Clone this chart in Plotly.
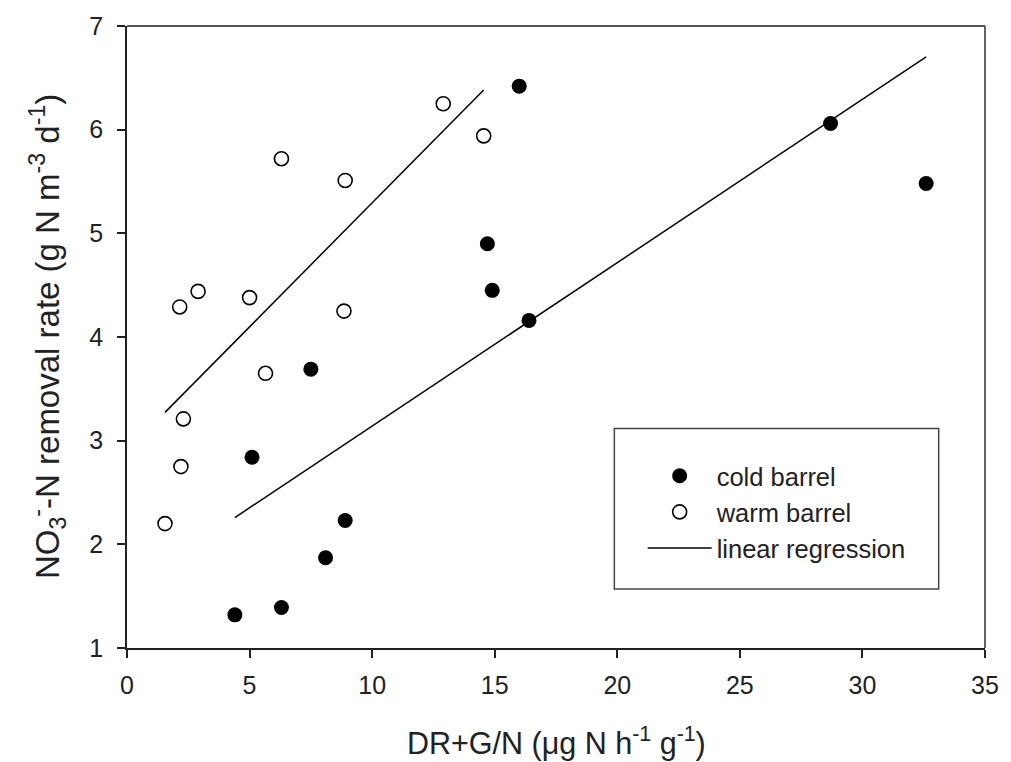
import plotly.graph_objects as go
import numpy as np

# cold barrel data
cold_x = [4.4, 6.3, 8.1, 8.9, 5.1, 7.5, 14.7, 14.9, 16.4, 16.0, 28.7, 32.6]
cold_y = [1.32, 1.39, 1.87, 2.23, 2.84, 3.69, 4.90, 4.45, 4.16, 6.42, 6.06, 5.48]
# warm barrel data
warm_x = [1.55, 2.2, 2.3, 2.15, 2.9, 5.0, 5.65, 6.3, 8.9, 8.85, 12.9, 14.55]
warm_y = [2.20, 2.75, 3.21, 4.29, 4.44, 4.38, 3.65, 5.72, 5.51, 4.25, 6.25, 5.94]
# linear regressions (slope, intercept)
cold_fit = (0.1576, 1.565)
warm_fit = (0.2392, 2.902)

x_ticks = [0, 5, 10, 15, 20, 25, 30, 35]
y_ticks = [1, 2, 3, 4, 5, 6, 7]

x_title = "DR+G/N (μg N h<sup>-1</sup> g<sup>-1</sup>)"
y_title = "NO<sub>3</sub><sup>-</sup>-N removal rate (g N m<sup>-3</sup> d<sup>-1</sup>)"

FONT = "Liberation Sans, Arial, sans-serif"
TXT = "#222"

fig = go.Figure()

fig.add_trace(go.Scatter(
    x=cold_x, y=cold_y, mode="markers", name="cold barrel", legendgroup="a",
    marker=dict(symbol="circle", size=15, color="black", line=dict(width=0)),
))
fig.add_trace(go.Scatter(
    x=warm_x, y=warm_y, mode="markers", name="warm barrel", legendgroup="b",
    marker=dict(symbol="circle-open", size=14, color="black", line=dict(width=1.6)),
))

cx = np.array([min(cold_x), max(cold_x)])
wx = np.array([min(warm_x), max(warm_x)])
fig.add_trace(go.Scatter(
    x=wx, y=warm_fit[0] * wx + warm_fit[1], mode="lines", name="linear regression",
    legendgroup="c", line=dict(color="black", width=1.5), showlegend=True,
))
fig.add_trace(go.Scatter(
    x=cx, y=cold_fit[0] * cx + cold_fit[1], mode="lines", name="linear regression",
    legendgroup="c", line=dict(color="black", width=1.5), showlegend=False,
))

# legend frame
fig.add_shape(type="rect", xref="paper", yref="paper",
              x0=0.568, x1=0.946, y0=0.095, y1=0.353,
              line=dict(color="#444", width=1.5), fillcolor="rgba(0,0,0,0)")

fig.update_layout(
    width=1011, height=762,
    margin=dict(l=127, r=19, t=24, b=114),
    paper_bgcolor="white", plot_bgcolor="white",
    font=dict(family=FONT, color=TXT, size=25),
    showlegend=True,
    legend=dict(x=0.601, y=0.314, xanchor="left", yanchor="top",
                bgcolor="rgba(0,0,0,0)", borderwidth=0,
                font=dict(size=25.5, family=FONT, color=TXT),
                tracegroupgap=0, itemwidth=64),
    xaxis=dict(range=[0, 35], tickvals=x_ticks, ticks="outside", ticklen=8,
               tickwidth=1.5, tickcolor=TXT, showgrid=False, zeroline=False,
               showline=True, linecolor=TXT, linewidth=1.8, mirror=False,
               ticklabelstandoff=6,
               tickfont=dict(size=25, family=FONT, color=TXT)),
    yaxis=dict(range=[1, 7], tickvals=y_ticks, ticks="outside", ticklen=8,
               tickwidth=1.5, tickcolor=TXT, showgrid=False, zeroline=False,
               showline=True, linecolor=TXT, linewidth=1.8, mirror=False,
               ticklabelstandoff=9,
               tickfont=dict(size=25, family=FONT, color=TXT)),
    annotations=[
        dict(text=x_title, xref="paper", yref="paper", x=0.5, y=0,
             xanchor="center", yanchor="middle", yshift=-93, showarrow=False,
             font=dict(size=30.5, family=FONT, color=TXT)),
        dict(text=y_title, xref="paper", yref="paper", x=0, y=0.5,
             xanchor="center", yanchor="middle", xshift=-80, textangle=-90,
             showarrow=False, font=dict(size=33, family=FONT, color=TXT)),
    ],
)

# top and right frame lines (lighter)
fig.add_shape(type="line", xref="paper", yref="paper", x0=0, x1=1, y0=1, y1=1,
              line=dict(color="#555", width=1.8))
fig.add_shape(type="line", xref="paper", yref="paper", x0=1, x1=1, y0=0, y1=1,
              line=dict(color="#555", width=1.8))

fig.write_html("out.html")
